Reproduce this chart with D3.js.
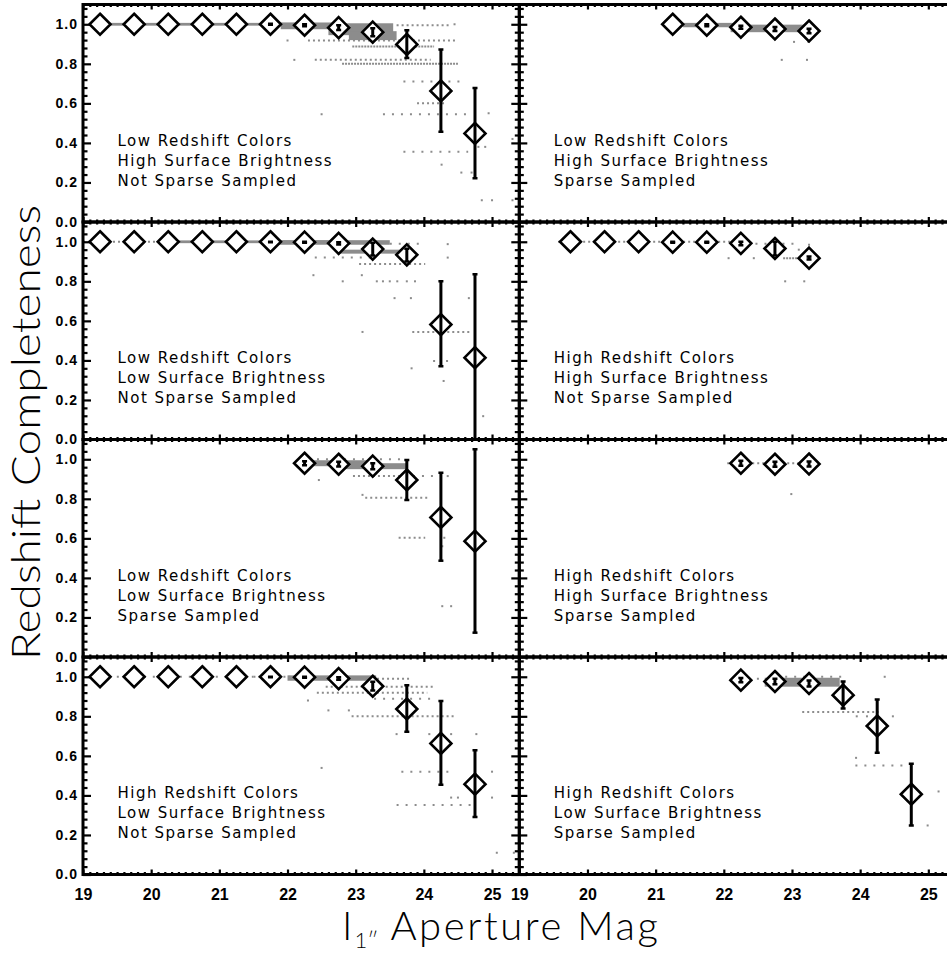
<!DOCTYPE html>
<html><head><meta charset="utf-8">
<script src="https://cdn.jsdelivr.net/npm/d3@7"></script>
<style>body{margin:0;background:#fff;} svg{display:block}</style>
</head><body>
<svg id="c" width="947" height="953"></svg>
<script>
// ---------- data ----------
const xTicks = [19, 20, 21, 22, 23, 24, 25];
const xTickLabels = ["19", "20", "21", "22", "23", "24", "25"];
const yTicks = [0, 0.2, 0.4, 0.6, 0.8, 1.0];
const yTickLabels = ["0.0", "0.2", "0.4", "0.6", "0.8", "1.0"];
const xTitleMain = "I";
const xTitleSub = "1\u2033";
const xTitleRest = " Aperture Mag";
const yTitle = "Redshift Completeness";

// Panel A: Low z colors, High SB, Not sparse
const aLabels = ["Low Redshift Colors", "High Surface Brightness", "Not Sparse Sampled"];
const aMag  = [19.25, 19.75, 20.25, 20.75, 21.25, 21.75, 22.25, 22.75, 23.25, 23.75, 24.25, 24.75];
const aComp = [1, 1, 1, 1, 1, 1, 0.995, 0.983, 0.96, 0.898, 0.663, 0.448];
const aLo   = [1, 1, 1, 1, 1, 0.997, 0.99, 0.971, 0.94, 0.83, 0.456, 0.221];
const aHi   = [1, 1, 1, 1, 1, 1.003, 1.0, 0.995, 0.98, 0.97, 0.872, 0.678];
const aBands = [[19.15, 22.3, 1.002, 0.998], [21.9, 22.7, 1.004, 0.98], [22.6, 23.55, 1.0, 0.95], [22.9, 23.6, 0.96, 0.925]];
const aRows = [[22.3, 24.5, 0.918, 2], [22.95, 24.15, 0.888, 3], [22.4, 24.1, 0.82, 2], [22.8, 24.5, 0.80, 3],
  [23.7, 24.6, 0.71, 1], [23.9, 24.3, 0.60, 2], [23.4, 24.7, 0.545, 1], [23.7, 24.65, 0.355, 1], [23.6, 24.4, 0.995, 2]];
const aPts = [[22.5, 0.545], [24.8, 0.38], [24.9, 0.38], [24.26, 0.29], [24.55, 0.25], [24.7, 0.25], [24.85, 0.11],
  [25.0, 0.11], [25.3, 0.42], [25.3, 0.11], [24.45, 1.0], [22.1, 0.82], [22.0, 0.918], [24.95, 0.55]];

// Panel B: Low z colors, High SB, Sparse
const bLabels = ["Low Redshift Colors", "High Surface Brightness", "Sparse Sampled"];
const bMag  = [21.25, 21.75, 22.25, 22.75, 23.25];
const bComp = [1.0, 0.995, 0.985, 0.976, 0.966];
const bLo   = [1.0, 0.99, 0.977, 0.966, 0.955];
const bHi   = [1.0, 1.0, 0.993, 0.986, 0.977];
const bBands = [[21.4, 22.3, 1.002, 0.99], [22.1, 23.2, 0.993, 0.965]];
const bRows = [];
const bPts = [[23.03, 0.911], [23.24, 0.911], [22.85, 0.82], [23.22, 0.82], [21.3, 1.0]];

// Panel C: Low z colors, Low SB, Not sparse
const cLabels = ["Low Redshift Colors", "Low Surface Brightness", "Not Sparse Sampled"];
const cMag  = [19.25, 19.75, 20.25, 20.75, 21.25, 21.75, 22.25, 22.75, 23.25, 23.75, 24.25, 24.75];
const cComp = [1, 1, 1, 1, 1, 1, 0.998, 0.992, 0.963, 0.934, 0.581, 0.414];
const cLo   = [1, 1, 1, 1, 1, 0.997, 0.995, 0.986, 0.93, 0.90, 0.37, -0.02];
const cHi   = [1, 1, 1, 1, 1, 1, 1.0, 0.998, 0.995, 0.965, 0.80, 0.836];
const cBands = [[20.2, 22.6, 1.002, 0.998], [21.8, 23.5, 1.003, 0.99], [22.75, 23.65, 0.955, 0.945]];
const cRows = [[19.0, 20.2, 1.0, 2], [22.4, 23.3, 0.921, 1], [23.05, 24.02, 0.887, 2], [23.83, 24.7, 0.544, 2], [23.5, 24.0, 0.99, 1]];
const cPts = [[22.38, 0.831], [23.09, 0.831], [22.81, 0.80], [23.31, 0.80], [23.4, 0.80], [23.5, 0.80], [23.61, 0.80],
  [23.75, 0.80], [23.87, 0.80], [23.57, 0.715], [23.81, 0.715], [24.66, 0.715], [23.1, 0.544], [24.15, 0.397],
  [24.34, 0.397], [23.82, 0.36], [24.29, 0.296], [24.87, 0.118], [24.35, 0.988], [24.35, 0.92]];

// Panel D: High z colors, High SB, Not sparse
const dLabels = ["High Redshift Colors", "High Surface Brightness", "Not Sparse Sampled"];
const dMag  = [19.75, 20.25, 20.75, 21.25, 21.75, 22.25, 22.75, 23.25];
const dComp = [1, 1, 1, 0.998, 0.998, 0.992, 0.966, 0.917];
const dLo   = [1, 1, 1, 0.995, 0.995, 0.982, 0.93, 0.91];
const dHi   = [1, 1, 1, 1, 1, 1.0, 1.0, 0.925];
const dBands = [];
const dRows = [[19.57, 22.14, 1.0, 2], [22.2, 23.1, 0.99, 1], [22.87, 23.27, 0.917, 3]];
const dPts = [[22.07, 0.917], [22.44, 0.917], [22.9, 0.8], [23.18, 0.8], [23.1, 0.96], [23.25, 0.985]];

// Panel E: Low z colors, Low SB, Sparse
const eLabels = ["Low Redshift Colors", "Low Surface Brightness", "Sparse Sampled"];
const eMag  = [22.25, 22.75, 23.25, 23.75, 24.25, 24.75];
const eComp = [0.98, 0.975, 0.965, 0.895, 0.706, 0.586];
const eLo   = [0.97, 0.963, 0.95, 0.794, 0.487, 0.123];
const eHi   = [0.99, 0.987, 0.98, 0.996, 0.932, 1.051];
const eBands = [[22.2, 23.3, 0.99, 0.97], [22.7, 23.75, 0.975, 0.955]];
const eRows = [[22.96, 23.84, 0.915, 2], [23.84, 24.3, 0.915, 1], [23.14, 24.06, 0.806, 2], [23.63, 24.02, 0.603, 2], [22.3, 23.7, 1.0, 1]];
const ePts = [[24.3, 0.603], [24.27, 0.56], [24.27, 0.257], [24.4, 0.257], [22.46, 0.895], [23.1, 0.82], [24.35, 0.915]];

// Panel F: High z colors, High SB, Sparse
const fLabels = ["High Redshift Colors", "High Surface Brightness", "Sparse Sampled"];
const fMag  = [22.25, 22.75, 23.25];
const fComp = [0.98, 0.975, 0.976];
const fLo   = [0.967, 0.962, 0.963];
const fHi   = [0.993, 0.988, 0.989];
const fBands = [];
const fRows = [[22.05, 23.2, 0.98, 2]];
const fPts = [[22.99, 0.824]];

// Panel G: High z colors, Low SB, Not sparse
const gLabels = ["High Redshift Colors", "Low Surface Brightness", "Not Sparse Sampled"];
const gMag  = [19.25, 19.75, 20.25, 20.75, 21.25, 21.75, 22.25, 22.75, 23.25, 23.75, 24.25, 24.75];
const gComp = [1, 1, 1, 1, 1, 1, 0.998, 0.991, 0.952, 0.837, 0.663, 0.457];
const gLo   = [1, 1, 1, 1, 1, 0.998, 0.995, 0.985, 0.93, 0.722, 0.454, 0.291];
const gHi   = [1, 1, 1, 1, 1, 1, 1.0, 0.997, 0.975, 0.957, 0.877, 0.628];
const gBands = [[22.0, 23.3, 1.002, 0.985]];
const gRows = [[19.1, 21.5, 1.0, 1], [21.5, 22.3, 1.0, 2], [22.56, 24.16, 0.95, 2], [22.43, 24.05, 0.919, 2],
  [23.27, 24.15, 0.889, 1], [22.94, 24.45, 0.80, 2], [23.67, 24.36, 0.52, 1], [23.6, 24.7, 0.351, 1], [22.8, 23.8, 0.99, 2]];
const gPts = [[22.3, 0.88], [22.6, 0.83], [22.9, 0.83], [23.6, 0.71], [24.08, 0.71], [24.4, 0.71], [24.77, 0.71],
  [22.5, 0.539], [25.0, 0.52], [24.4, 0.389], [24.5, 0.389], [25.0, 0.389], [25.07, 0.11], [25.32, 0.11]];

// Panel H: High z colors, Low SB, Sparse
const hLabels = ["High Redshift Colors", "Low Surface Brightness", "Sparse Sampled"];
const hMag  = [22.25, 22.75, 23.25, 23.75, 24.25, 24.75];
const hComp = [0.983, 0.976, 0.966, 0.907, 0.751, 0.406];
const hLo   = [0.972, 0.962, 0.951, 0.839, 0.616, 0.248];
const hHi   = [0.994, 0.99, 0.981, 0.976, 0.885, 0.56];
const hBands = [[22.6, 23.7, 0.99, 0.955]];
const hRows = [[22.9, 23.8, 1.0, 1], [23.15, 24.27, 0.822, 2], [23.93, 24.69, 0.551, 1]];
const hPts = [[24.36, 1.0], [23.95, 0.8], [24.1, 0.8], [24.48, 0.8], [23.94, 0.59], [25.15, 0.42], [24.99, 0.248], [22.5, 0.99]];

// ---------- table built from the arrays ----------
const panels = [
  {row: 0, col: 0, labels: aLabels, mag: aMag, comp: aComp, lo: aLo, hi: aHi, bands: aBands, rows: aRows, pts: aPts},
  {row: 0, col: 1, labels: bLabels, mag: bMag, comp: bComp, lo: bLo, hi: bHi, bands: bBands, rows: bRows, pts: bPts},
  {row: 1, col: 0, labels: cLabels, mag: cMag, comp: cComp, lo: cLo, hi: cHi, bands: cBands, rows: cRows, pts: cPts},
  {row: 1, col: 1, labels: dLabels, mag: dMag, comp: dComp, lo: dLo, hi: dHi, bands: dBands, rows: dRows, pts: dPts},
  {row: 2, col: 0, labels: eLabels, mag: eMag, comp: eComp, lo: eLo, hi: eHi, bands: eBands, rows: eRows, pts: ePts},
  {row: 2, col: 1, labels: fLabels, mag: fMag, comp: fComp, lo: fLo, hi: fHi, bands: fBands, rows: fRows, pts: fPts},
  {row: 3, col: 0, labels: gLabels, mag: gMag, comp: gComp, lo: gLo, hi: gHi, bands: gBands, rows: gRows, pts: gPts},
  {row: 3, col: 1, labels: hLabels, mag: hMag, comp: hComp, lo: hLo, hi: hHi, bands: hBands, rows: hRows, pts: hPts}
];

// ---------- layout ----------
const plotLeft = 83, colW = 436.3, plotTop = 4.5, rowH = 217.5;
const GRAY = "#8c8c8c";
const dashFor = {1: "2 7", 2: "2 3", 3: "2 1"};
const svg = d3.select("#c");
const defs = svg.append("defs");

const xMinor = d3.range(190, 255).map(v => v / 10).filter(v => Math.abs(v - Math.round(v)) > 1e-6);
const yMinor = d3.range(0, 28).map(v => v * 0.04).filter(v => Math.abs(v / 0.2 - Math.round(v / 0.2)) > 1e-6 && v <= 1.1);

panels.forEach((p, i) => {
  const x0 = plotLeft + p.col * colW, y0 = plotTop + p.row * rowH;
  const x = d3.scaleLinear().domain([19, 25.4]).range([x0, x0 + colW]);
  const y = d3.scaleLinear().domain([0, 1.1]).range([y0 + rowH, y0]);
  const g = svg.append("g");
  defs.append("clipPath").attr("id", "clip" + i).append("rect")
    .attr("x", x0).attr("y", y0).attr("width", colW).attr("height", rowH);
  const data = g.append("g").attr("clip-path", `url(#clip${i})`);

  // gray galaxy points
  data.selectAll("rect.band").data(p.bands).join("rect").attr("class", "band")
    .attr("x", d => x(d[0])).attr("width", d => x(d[1]) - x(d[0]))
    .attr("y", d => y(d[2]) - 1).attr("height", d => Math.max(2, y(d[3]) - y(d[2]) + 2))
    .attr("fill", GRAY);
  data.selectAll("line.row").data(p.rows).join("line").attr("class", "row")
    .attr("x1", d => x(d[0])).attr("x2", d => x(d[1]))
    .attr("y1", d => y(d[2])).attr("y2", d => y(d[2]))
    .attr("stroke", GRAY).attr("stroke-width", 2).attr("stroke-dasharray", d => dashFor[d[3]]);
  data.selectAll("rect.pt").data(p.pts).join("rect").attr("class", "pt")
    .attr("x", d => x(d[0]) - 1).attr("y", d => y(d[1]) - 1).attr("width", 2).attr("height", 2)
    .attr("fill", GRAY);

  // diamonds
  const r = 10.5;
  const idx = d3.range(p.mag.length);
  data.selectAll("path.dia").data(idx).join("path").attr("class", "dia")
    .attr("d", `M0,${-r}L${r},0L0,${r}L${-r},0Z`)
    .attr("transform", k => `translate(${x(p.mag[k])},${y(p.comp[k])})`)
    .attr("fill", "#fff").attr("stroke", "#000").attr("stroke-width", 2.6).attr("stroke-linejoin", "miter");
  // error bars
  const eb = data.selectAll("g.eb").data(idx.filter(k => p.hi[k] - p.lo[k] > 0.001)).join("g").attr("class", "eb");
  eb.append("line").attr("x1", k => x(p.mag[k])).attr("x2", k => x(p.mag[k]))
    .attr("y1", k => y(p.hi[k])).attr("y2", k => y(p.lo[k])).attr("stroke", "#000").attr("stroke-width", 3);
  eb.append("line").attr("x1", k => x(p.mag[k]) - 2.5).attr("x2", k => x(p.mag[k]) + 2.5)
    .attr("y1", k => y(p.hi[k])).attr("y2", k => y(p.hi[k])).attr("stroke", "#000").attr("stroke-width", 2.5);
  eb.append("line").attr("x1", k => x(p.mag[k]) - 2.5).attr("x2", k => x(p.mag[k]) + 2.5)
    .attr("y1", k => y(p.lo[k])).attr("y2", k => y(p.lo[k])).attr("stroke", "#000").attr("stroke-width", 2.5);

  // panel labels
  const txt = g.append("text").attr("font-family", "'DejaVu Sans', sans-serif").attr("font-size", 15)
    .attr("letter-spacing", 1.5).attr("fill", "#000");
  p.labels.forEach((s, j) => txt.append("tspan").attr("x", x0 + 34.5).attr("y", y0 + 141 + j * 20).text(s));

  // ticks (all four sides, pointing inward)
  const ax = (gen, tx, ty, vals, size) => {
    const a = g.append("g").attr("transform", `translate(${tx},${ty})`)
      .call(gen.tickValues(vals).tickSize(size).tickFormat(""));
    a.select(".domain").remove();
    a.selectAll("line").attr("stroke", "#000").attr("stroke-width", 2.2);
  };
  ax(d3.axisTop(x), 0, y0 + rowH, xTicks, 5);
  ax(d3.axisTop(x), 0, y0 + rowH, xMinor, 2.5);
  ax(d3.axisBottom(x), 0, y0, xTicks, 5);
  ax(d3.axisBottom(x), 0, y0, xMinor, 2.5);
  ax(d3.axisRight(y), x0, 0, yTicks, 8);
  ax(d3.axisRight(y), x0, 0, yMinor, 4.5);
  ax(d3.axisLeft(y), x0 + colW, 0, yTicks, 8);
  ax(d3.axisLeft(y), x0 + colW, 0, yMinor, 4.5);

  // frame
  g.append("rect").attr("x", x0).attr("y", y0).attr("width", colW).attr("height", rowH)
    .attr("fill", "none").attr("stroke", "#000").attr("stroke-width", 3);

  // tick labels
  if (p.col === 0) {
    const la = g.append("g").attr("transform", `translate(${x0},0)`)
      .call(d3.axisLeft(y).tickValues(yTicks).tickSize(0).tickPadding(5)
        .tickFormat((d, k) => yTickLabels[k]));
    la.select(".domain").remove();
    la.selectAll("text").attr("font-family", "'Liberation Sans', Arial, sans-serif").attr("font-weight", "bold")
      .attr("font-size", 14).attr("letter-spacing", 1).attr("fill", "#000");
  }
  if (p.row === 3) {
    const lb = g.append("g").attr("transform", `translate(0,${y0 + rowH})`)
      .call(d3.axisBottom(x).tickValues(xTicks).tickSize(0).tickPadding(14)
        .tickFormat((d, k) => xTickLabels[k]));
    lb.select(".domain").remove();
    lb.selectAll("text").attr("font-family", "'Liberation Sans', Arial, sans-serif").attr("font-weight", "bold")
      .attr("font-size", 16).attr("fill", "#000");
  }
});

// axis titles
svg.append("text").attr("transform", "translate(40,432.5) rotate(-90)")
  .attr("text-anchor", "middle").attr("font-family", "Lato, 'DejaVu Sans', sans-serif").attr("font-weight", 300)
  .attr("font-size", 40).attr("textLength", 455).attr("lengthAdjust", "spacingAndGlyphs").text(yTitle);

const xt = svg.append("text").attr("x", 342).attr("y", 940)
  .attr("font-family", "Lato, 'DejaVu Sans', sans-serif").attr("font-weight", 300).attr("font-size", 40);
xt.append("tspan").text(xTitleMain);
xt.append("tspan").attr("font-size", 22).attr("dy", 8).attr("dx", 2).text(xTitleSub);
xt.append("tspan").attr("dy", -8).attr("letter-spacing", 2.6).text(xTitleRest);
</script>
</body></html>
